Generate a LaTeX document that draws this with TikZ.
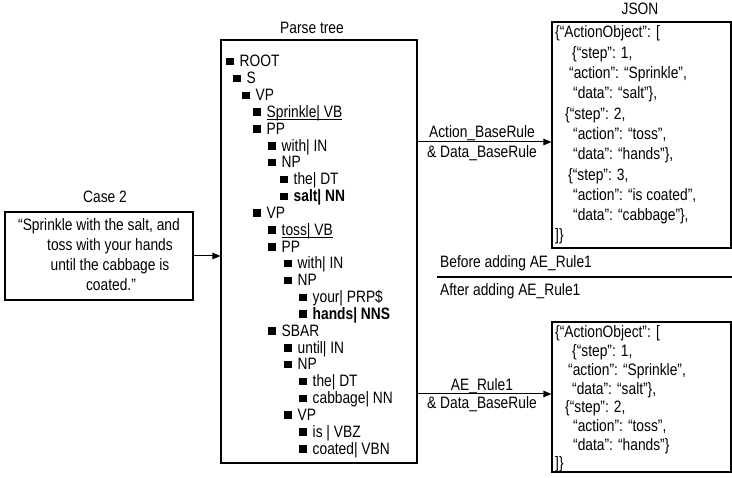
\documentclass[tikz,border=0pt]{standalone}
\usepackage{fontspec}
\setmainfont{Liberation Sans}[FakeStretch=0.835]
\usetikzlibrary{arrows.meta}
\newcommand\bul{\rule[1.5pt]{7.5pt}{7.5pt}\hspace{6pt}}
\newcommand\ulx[1]{\setbox0\hbox{#1}\rlap{\rule[-2.6pt]{\wd0}{0.9pt}}\box0}
\begin{document}
\begin{tikzpicture}[x=1pt,y=-1pt,
  txt/.style={inner sep=0pt, font=\fontsize{16.5}{18}\selectfont},
  lbl/.style={txt, anchor=base},
  lft/.style={txt, anchor=base west},
  box/.style={draw, line width=1.1pt, inner sep=0pt},
  arr/.style={line width=1pt, -{Triangle[length=8pt,width=6.5pt]}}]
\useasboundingbox (0,0) rectangle (732,478);

% boxes
\node[box, minimum width=188pt, minimum height=88pt] (case) at (99,256) {};
\node[box, minimum width=196pt, minimum height=423pt] (tree) at (319,251.5) {};
\node[box, minimum width=179pt, minimum height=226pt] (json1) at (641.5,135) {};
\node[box, minimum width=179pt, minimum height=150pt] (json2) at (641.5,397) {};

% titles
\node[lbl] (casettl) at (105,203) {Case 2};
\node[lbl] (treettl) at (312,34) {Parse tree};
\node[lbl] (jsonttl) at (640,15) {JSON};

% case text
\node[lbl] (c1) at (99,231) {“Sprinkle with the salt, and};
\node[lbl] (c2) at (110,251) {toss with your hands};
\node[lbl] (c3) at (110,271) {until the cabbage is};
\node[lbl] (c4) at (111,291) {coated."};

% parse tree rows
\foreach \bx/\t [count=\i from 0] in {226/ROOT, 233/S, 242/VP, 253/{\ulx{Sprinkle| VB}}, 253/PP,
  268/{with| IN}, 268/NP, 280/{the| DT}, 280/{\textbf{salt| NN}}, 253/VP, 268/{\ulx{toss| VB}},
  268/PP, 284/{with| IN}, 284/NP, 299/{your| PRP\$}, 299/{\textbf{hands| NNS}}, 268/SBAR,
  284/{until| IN}, 284/NP, 299/{the| DT}, 299/{cabbage| NN}, 284/VP, 299/{is | VBZ}, 299/{coated| VBN}}
  \node[lft] (t\i) at (\bx,{67+16.83*\i}) {\bul\t};

% JSON 1
\foreach \dx/\t [count=\i from 0] in {555/{\{“ActionObject”: [}, 572/{\{“step”: 1,},
  569/{“action”: “Sprinkle”,}, 573/{“data”: “salt”\},}, 565/{\{“step”: 2,},
  573/{“action”: “toss”,}, 573/{“data”: “hands”\},}, 568/{\{“step”: 3,},
  573/{“action”: “is coated”,}, 573/{“data”: “cabbage”\},}, 555/{]\}}}
  \node[lft] (ja\i) at (\dx,{38+20.3*\i}) {\t};

% JSON 2
\foreach \dx/\t [count=\i from 0] in {555/{\{“ActionObject”: [}, 572/{\{“step”: 1,},
  568/{“action”: “Sprinkle”,}, 572/{“data”: “salt”\},}, 565/{\{“step”: 2,},
  573/{“action”: “toss”,}, 573/{“data”: “hands”\}}, 555/{]\}}}
  \node[lft] (jb\i) at (\dx,{338+18.7*\i}) {\t};

% arrows
\draw[arr] (case.east) -- (case.east -| tree.west);
\coordinate (r1) at (0,142);
\draw[arr] (tree.east |- r1) -- (json1.west |- r1);
\node[lbl] (l1a) at (482,138) {Action\_BaseRule};
\node[lbl] (l1b) at (482,158) {\& Data\_BaseRule};
\coordinate (r2) at (0,394);
\draw[arr] (tree.east |- r2) -- (json2.west |- r2);
\node[lbl] (l2a) at (482,391) {AE\_Rule1};
\node[lbl] (l2b) at (482,409) {\& Data\_BaseRule};

% separator
\coordinate (sepL) at (437,277);
\coordinate (sepR) at (732,277);
\draw[line width=2.4pt] (sepL) -- (sepR);
\node[lft] (before) at (440,268) {Before adding AE\_Rule1};
\node[lft] (after) at (440,296) {After adding AE\_Rule1};
\end{tikzpicture}
\end{document}
